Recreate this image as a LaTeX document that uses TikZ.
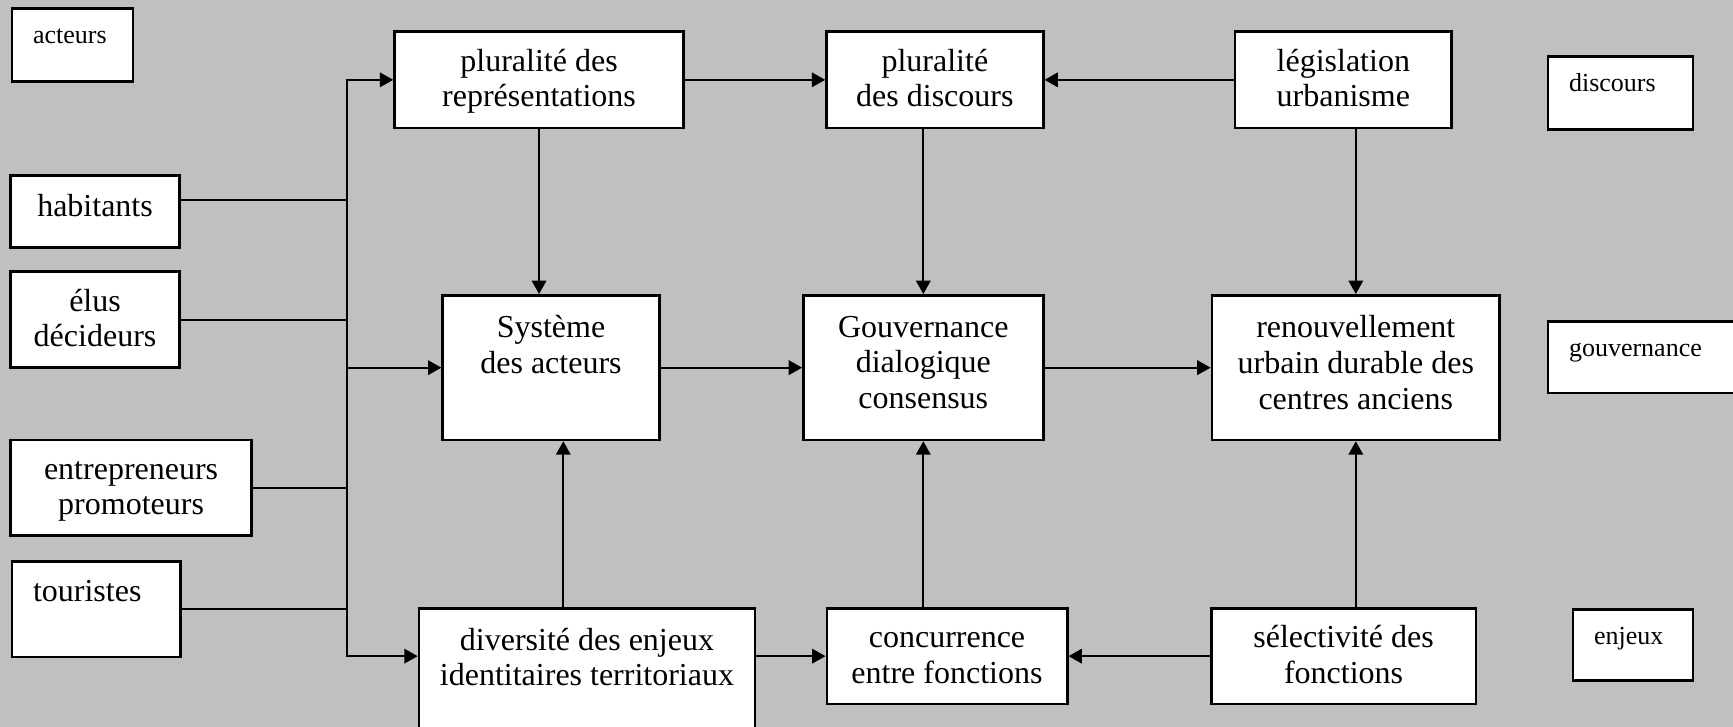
\documentclass[tikz,border=0pt]{standalone}
\usepackage{fontspec}
\setmainfont{Liberation Serif}
\usetikzlibrary{arrows.meta,calc}
\definecolor{bg}{RGB}{192,192,192}

\begin{document}
\begin{tikzpicture}[
    x=0.5pt, y=-0.5pt,
    box/.style={draw, line width=1.3pt, fill=white, align=center, inner sep=0pt, font=\fontsize{16}{17.8}\selectfont},
    two/.style={text height=27pt, text depth=0pt},
    tag/.style={draw, line width=1.3pt, fill=white, anchor=north west, align=left, inner xsep=10.5pt, inner ysep=0pt, text height=17.5pt, font=\fontsize{13}{15}\selectfont},
    arr/.style={-{Triangle[length=6.7pt,width=7.3pt]}, line width=0.85pt},
    link/.style={line width=0.85pt}
]
\path[use as bounding box, fill=bg] (0,0) rectangle (1733,727);
\clip (0,0) rectangle (1733,727);

% legend
\node[tag, text width=39.5pt, text depth=18.85pt] (lgact) at (10.7,7.3) {acteurs};
\node[tag, text width=51.5pt, text depth=19.15pt] (lgdisc) at (1546.7,55) {discours};
\node[tag, text width=85.5pt, text depth=18.35pt] (lggouv) at (1546.7,320) {gouvernance};
\node[tag, text width=39pt, text depth=18pt] (lgenj) at (1571.7,608.3) {enjeux};

% actors
\node[box, minimum width=84.35pt, minimum height=36pt, text height=5pt, text depth=0pt] (hab) at (95.05,211.7) {habitants};
\node[box, two, minimum width=84.35pt, minimum height=48pt] (elus) at (95.05,319.7) {élus\\décideurs};
\node[box, two, minimum width=120.4pt, minimum height=47.65pt] (entr) at (131.1,487.65) {entrepreneurs\\promoteurs};
\node[tag, font=\fontsize{16}{17.8}\selectfont, text width=63.3pt, text height=20pt, text depth=27.85pt] (tour) at (10.7,560) {touristes};

% top row
\node[box, two, minimum width=144.5pt, minimum height=48.15pt] (repr) at (539.05,79.85) {pluralité des\\représentations};
\node[box, two, minimum width=108.35pt, minimum height=48.15pt] (disc) at (934.85,79.85) {pluralité\\des discours};
\node[box, two, minimum width=108.4pt, minimum height=48.15pt] (legis) at (1343.3,79.85) {législation\\urbanisme};

% middle row
\node[box, minimum width=108.3pt, minimum height=72.35pt] (sys) at (551,367.65) {Système\\des acteurs\\\strut};
\node[box, minimum width=119.9pt, minimum height=72.35pt] (gouv) at (923.3,367.65) {Gouvernance\\dialogique\\consensus\strut};
\node[box, minimum width=143.9pt, minimum height=72.35pt] (renouv) at (1355.8,367.65) {renouvellement\\urbain durable des\\centres anciens\strut};

% bottom row
\node[box, minimum width=168pt, minimum height=71.85pt] (div) at (587,680.15) {diversité des enjeux\\identitaires territoriaux\\\strut};
\node[box, two, minimum width=120.2pt, minimum height=47.85pt] (conc) at (947,656.15) {concurrence\\entre fonctions};
\node[box, two, minimum width=132.4pt, minimum height=47.85pt] (sel) at (1343.6,656.15) {sélectivité des\\fonctions};

% collecting line of the actors
\coordinate (bustop) at (347.3,79.85);
\coordinate (busbot) at (347.3,656.15);
\coordinate (habjoin) at (347.3,200);

\draw[link] (habjoin -| hab.east) -- (habjoin);
\draw[link] (elus.east) -- (elus.east -| bustop);
\draw[link] (entr.east) -- (entr.east -| bustop);
\draw[link] (tour.east) -- (tour.east -| bustop);
\draw[arr] (sys.west -| bustop) |- (repr.west);
\draw[arr] (sys.west -| bustop) |- (busbot -| div.west);
\draw[arr] (sys.west -| bustop) -- (sys.west);

\draw[arr] (repr.east) -- (disc.west);
\draw[arr] (legis.west) -- (disc.east);
\draw[arr] (repr.south) -- (repr.south |- sys.north);
\draw[arr] (gouv.north |- disc.south) -- (gouv.north);
\draw[arr] (renouv.north |- legis.south) -- (renouv.north);

\draw[arr] (sys.east) -- (gouv.west);
\draw[arr] (gouv.east) -- (renouv.west);

\draw[arr] ([xshift=6.15pt]sys.south |- div.north) -- ([xshift=6.15pt]sys.south);
\draw[arr] (gouv.south |- conc.north) -- (gouv.south);
\draw[arr] (renouv.south |- sel.north) -- (renouv.south);
\draw[arr] (div.east |- conc.west) -- (conc.west);
\draw[arr] (sel.west) -- (conc.east);
\end{tikzpicture}
\end{document}
